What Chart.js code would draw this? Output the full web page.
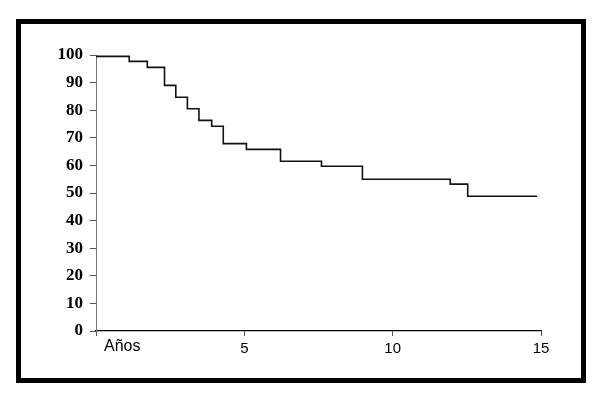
<!DOCTYPE html>
<html>
<head>
<meta charset="utf-8">
<script src="https://cdn.jsdelivr.net/npm/chart.js@4.4.1/dist/chart.umd.min.js"></script>
<style>
    html, body { margin: 0; padding: 0; background: #fff; }
    #frame {
        position: absolute;
        left: 16px;
        top: 19px;
        width: 560px;
        height: 354px;
        border: 5px solid #000;
    }
    #survivalChart { display: block; }
</style>
</head>
<body>
<div id="frame">
    <canvas id="survivalChart" width="560" height="354"></canvas>
</div>
<script>
// Kaplan-Meier style survival curve (years vs %)
let years = [0, 1.12, 1.73, 2.31, 2.69, 3.08, 3.47, 3.9, 4.29, 5.07, 6.22, 7.6, 8.98, 11.94, 12.53, 14.87];
let survival = [99.5, 97.7, 95.5, 89, 84.7, 80.5, 76.3, 74.2, 67.9, 65.8, 61.5, 59.7, 55, 53.2, 48.8, 48.8];
let xTickValues = [0, 5, 10, 15];
let xFirstLabel = 'Años';

let points = [];
for (let i = 0; i < years.length; i++) {
    points.push({ x: years[i], y: survival[i] });
}

// draws the "Años" label just right of the origin, like the original
let firstLabelPlugin = {
    id: 'firstLabel',
    afterDraw: (chart) => {
        let xScale = chart.scales.x;
        let ctx = chart.ctx;
        ctx.save();
        ctx.font = '16px "Liberation Sans", Arial, sans-serif';
        ctx.fillStyle = '#000';
        ctx.textAlign = 'left';
        ctx.textBaseline = 'top';
        ctx.fillText(xFirstLabel, xScale.getPixelForValue(xTickValues[0]) + 8, xScale.top + 8);
        ctx.restore();
    }
};

let ctx1 = document.getElementById('survivalChart').getContext('2d');
let survivalChart = new Chart(ctx1, {
    type: 'line',
    data: {
        datasets: [{
            label: 'Supervivencia (%)',
            data: points,
            stepped: 'before',
            borderColor: '#111',
            borderWidth: 1.6,
            pointRadius: 0,
            fill: false
        }]
    },
    options: {
        responsive: false,
        animation: false,
        layout: {
            padding: { top: 31, right: 40, left: 0, bottom: 0 }
        },
        plugins: {
            legend: { display: false },
            tooltip: { enabled: false }
        },
        scales: {
            x: {
                type: 'linear',
                min: 0,
                max: 15,
                afterFit: (scale) => { scale.height = 47; },
                afterBuildTicks: (scale) => {
                    scale.ticks = xTickValues.map(v => ({ value: v }));
                },
                border: { color: '#000', width: 1.2 },
                grid: {
                    drawOnChartArea: false,
                    color: '#555',
                    tickLength: 5
                },
                ticks: {
                    color: '#000',
                    padding: 4,
                    maxRotation: 0,
                    font: { family: '"Liberation Sans", Arial, sans-serif', size: 15 },
                    callback: (value) => value === 0 ? '' : value
                }
            },
            y: {
                min: 0,
                max: 100,
                afterFit: (scale) => { scale.width = 75; },
                border: { color: '#777', width: 1 },
                grid: {
                    drawOnChartArea: false,
                    color: '#555',
                    tickLength: 6
                },
                ticks: {
                    stepSize: 10,
                    color: '#000',
                    padding: 7,
                    font: { family: '"Liberation Serif", "Times New Roman", serif', size: 17, weight: 'bold' }
                }
            }
        }
    },
    plugins: [firstLabelPlugin]
});
</script>
</body>
</html>
